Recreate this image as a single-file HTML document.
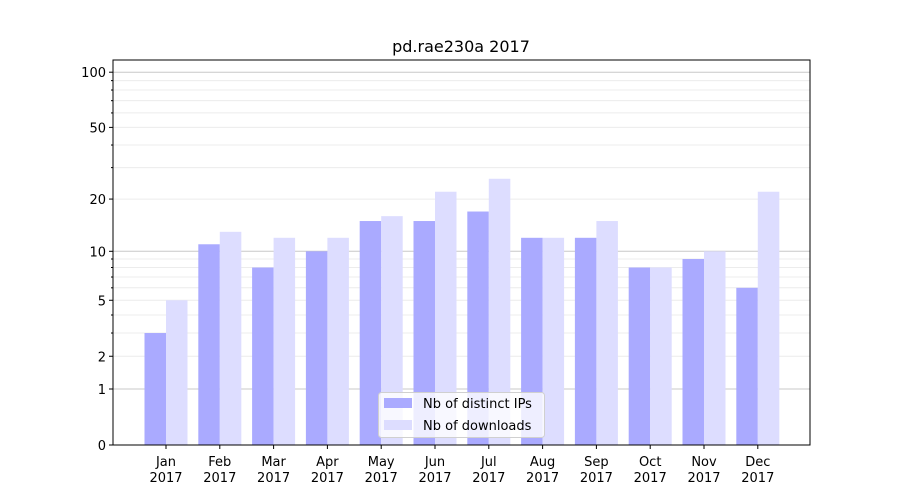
<!DOCTYPE html>
<html><head><meta charset="utf-8"><style>
body{margin:0;background:#fff;}
svg{display:block;font-family:"DejaVu Sans","Liberation Sans",sans-serif;}
</style></head><body>
<svg id="chart" width="900" height="500"></svg>
<script>
const months = ["Jan","Feb","Mar","Apr","May","Jun","Jul","Aug","Sep","Oct","Nov","Dec"];
const ipValues = [3,11,8,10,15,15,17,12,12,8,9,6];
const downloadValues = [5,13,12,12,16,22,26,12,15,8,10,22];
const majorTicks = [0,1,2,5,10,20,50,100];
const minorTicks = [3,4,6,7,8,9,30,40,60,70,80,90];
const darkGrid = [1,10,100];

const NS="http://www.w3.org/2000/svg";
const svg=document.getElementById('chart');
const L=113,R=810,T=60,B=445;
function y(v){return B-186*Math.log10(1+v);}
function x(i){return 166+i*53.8;}
function el(tag,attrs,parent){const e=document.createElementNS(NS,tag);for(const k in attrs)e.setAttribute(k,attrs[k]);(parent||svg).appendChild(e);return e;}

// grid
minorTicks.concat(majorTicks).forEach(v=>{
  if(v===0)return;
  const g=el('line',{x1:L,x2:R,y1:y(v),y2:y(v),stroke:darkGrid.includes(v)?'#c8c8c8':'#ececec','stroke-width':1});
  
  
});
// bars
const bw=21.5;
months.forEach((m,i)=>{
  const b1=el('rect',{x:x(i)-bw,y:y(ipValues[i]),width:bw,height:B-y(ipValues[i]),fill:'#aaaaff'});
  
  
  const b2=el('rect',{x:x(i),y:y(downloadValues[i]),width:bw,height:B-y(downloadValues[i]),fill:'#ddddff'});
  
  
  el('line',{x1:x(i),x2:x(i),y1:B,y2:B+4,stroke:'#000'});
  const t1=el('text',{x:x(i),y:B+21,'text-anchor':'middle','font-size':13});
  t1.textContent=m;
  
  
  const t2=el('text',{x:x(i),y:B+37,'text-anchor':'middle','font-size':13});
  t2.textContent='2017';
  
  
});
// y ticks
majorTicks.forEach(v=>{
  el('line',{x1:L-4,x2:L,y1:y(v),y2:y(v),stroke:'#000'});
  const t=el('text',{x:L-7,y:y(v)+5,'text-anchor':'end','font-size':13});
  t.textContent=v;
  
  
});
minorTicks.forEach(v=>{el('line',{x1:L-2,x2:L,y1:y(v),y2:y(v),stroke:'#000'});});
// frame
const f=el('rect',{x:L,y:T,width:R-L,height:B-T,fill:'none',stroke:'#000','stroke-width':1});


// title
const ti=el('text',{x:461,y:52,'text-anchor':'middle','font-size':16});
ti.textContent='pd.rae230a 2017';


// legend
const lg=el('g',{});


el('rect',{x:378.5,y:392.5,width:166,height:45,rx:3,fill:'#fff','fill-opacity':0.8,stroke:'#d0d0d0'},lg);
el('rect',{x:384,y:398,width:28,height:10,fill:'#aaaaff'},lg);
el('rect',{x:384,y:420,width:28,height:10,fill:'#ddddff'},lg);
const l1=el('text',{x:423,y:408,'font-size':13},lg);l1.textContent='Nb of distinct IPs';


const l2=el('text',{x:423,y:430,'font-size':13},lg);l2.textContent='Nb of downloads';


</script>
</body></html>
